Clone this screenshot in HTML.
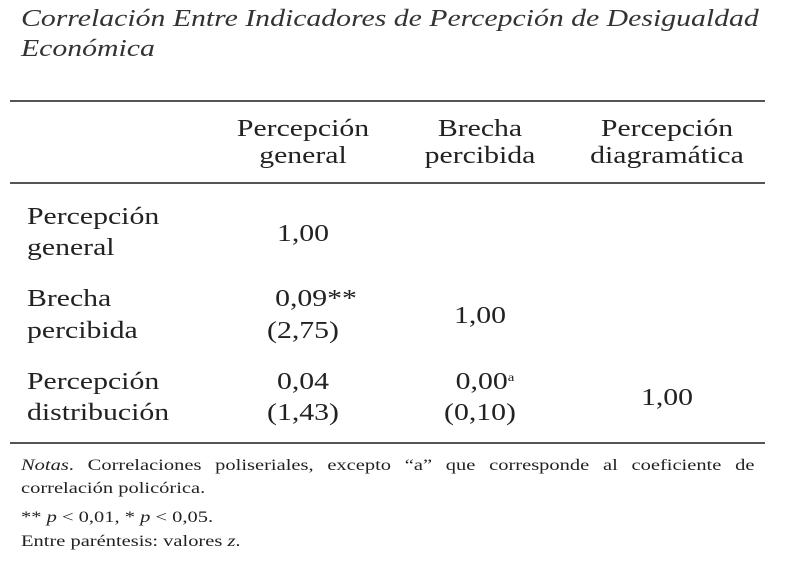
<!DOCTYPE html>
<html><head><meta charset="utf-8">
<style>
body{margin:0;width:785px;height:566px;background:#fff;position:relative;overflow:hidden;font-family:"Liberation Serif",serif;color:#222;}
.t{position:absolute;white-space:nowrap;font-size:24px;line-height:1;transform-origin:0 0;transform:scaleX(1.24);}
.c{transform-origin:50% 0;transform:translateX(-50%) scaleX(1.24);}
.ttl{position:absolute;left:21px;font-style:italic;font-size:24px;white-space:nowrap;color:#333;transform-origin:0 0;transform:scaleX(1.24);}
.rule{position:absolute;left:10px;width:755px;height:2px;background:#555;}
.n{position:absolute;left:21px;font-size:16px;white-space:nowrap;transform-origin:0 0;transform:scaleX(1.28);}
</style></head><body>
<div class="ttl" style="top:6px">Correlación Entre Indicadores de Percepción de Desigualdad</div>
<div class="ttl" style="top:36px">Económica</div>
<div class="rule" style="top:100px"></div>
<div class="t c" style="left:303px;top:117px;text-align:center">Percepción<br><span style="line-height:31px">general</span></div>
<div class="t c" style="left:480px;top:117px;text-align:center">Brecha<br><span style="line-height:31px">percibida</span></div>
<div class="t c" style="left:667px;top:117px;text-align:center">Percepción<br><span style="line-height:31px">diagramática</span></div>
<div class="rule" style="top:182px"></div>

<div class="t" style="left:27px;top:205px">Percepción</div>
<div class="t" style="left:27px;top:236px">general</div>
<div class="t c" style="left:303px;top:222px">1,00</div>

<div class="t" style="left:27px;top:287px">Brecha</div>
<div class="t" style="left:27px;top:319px">percibida</div>
<div class="t c" style="left:316px;top:287px">0,09**</div>
<div class="t c" style="left:303px;top:319px">(2,75)</div>
<div class="t c" style="left:480px;top:304px">1,00</div>

<div class="t" style="left:27px;top:370px">Percepción</div>
<div class="t" style="left:27px;top:401px">distribución</div>
<div class="t c" style="left:303px;top:370px">0,04</div>
<div class="t c" style="left:303px;top:401px">(1,43)</div>
<div class="t c" style="left:485px;top:370px">0,00<sup style="font-size:12px;vertical-align:8px">a</sup></div>
<div class="t c" style="left:480px;top:401px">(0,10)</div>
<div class="t c" style="left:667px;top:386px">1,00</div>
<div class="rule" style="top:442px"></div>

<div class="n" style="top:457px;width:573px;text-align:justify;text-align-last:justify"><i>Notas</i>. Correlaciones poliseriales, excepto “a” que corresponde al coeficiente de</div>
<div class="n" style="top:480px">correlación policórica.</div>
<div class="n" style="top:509px">** <i>p</i> &lt; 0,01, * <i>p</i> &lt; 0,05.</div>
<div class="n" style="top:533px">Entre paréntesis: valores <i>z</i>.</div>
</body></html>
